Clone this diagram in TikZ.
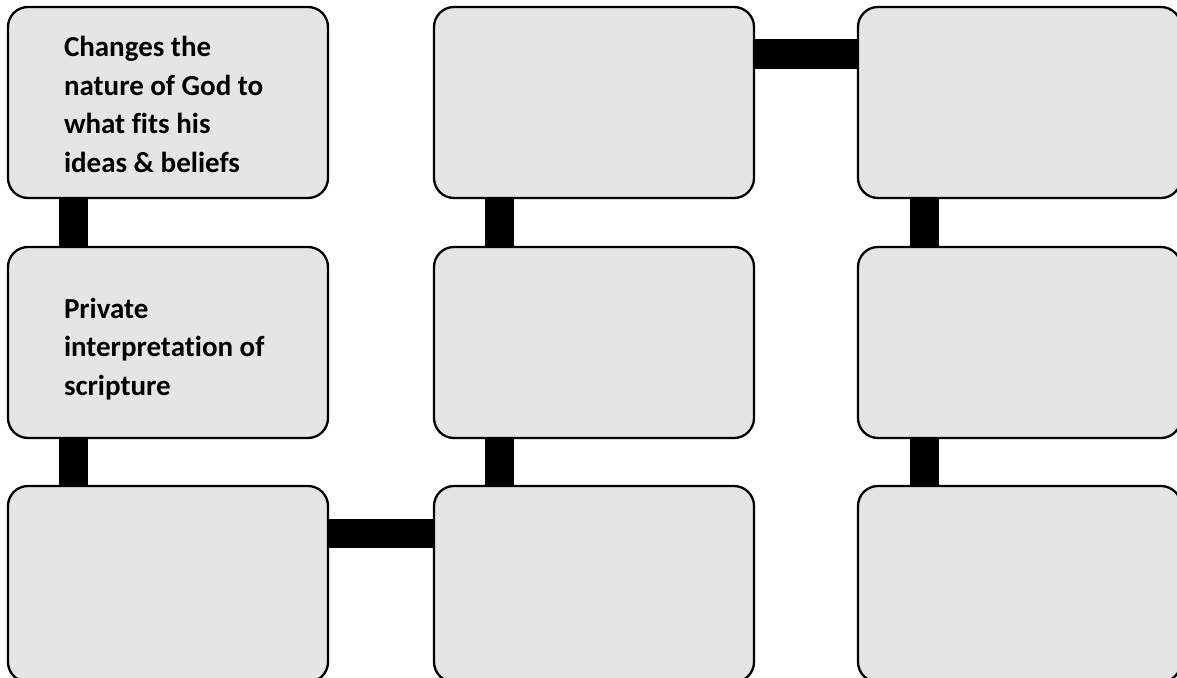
\documentclass[tikz,border=0pt]{standalone}
\usepackage{fontspec}
\setmainfont{Carlito}[Ligatures=NoCommon]
\usetikzlibrary{calc}
\definecolor{boxfill}{HTML}{E5E5E5}
\tikzset{
  card/.style={draw=black, line width=2.3pt, fill=boxfill, rounded corners=20pt,
    minimum width=320pt, minimum height=191pt, inner sep=0pt, outer sep=0pt,
    anchor=north west},
  lastcol/.style={minimum width=323pt},
  lastrow/.style={minimum height=196pt},
  bar/.style={draw=black, line width=29pt, line cap=butt},
  cardtext/.style={anchor=base west, inner sep=0pt, outer sep=0pt,
    font=\fontsize{29}{38.5}\selectfont\bfseries}
}
\begin{document}
\begin{tikzpicture}[x=1pt, y=-1pt]
\useasboundingbox (0,0) rectangle (1177,677);
\clip (0,0) rectangle (1177,677);
\coordinate (c1) at (73.5,0);
\coordinate (c2) at (499.5,0);
\coordinate (c3) at (924.5,0);
% cards
\node[card] (b11) at (8,7) {};
\node[card] (b21) at (8,247) {};
\node[card, lastrow] (b31) at (8,486) {};
\node[card] (b12) at (434,7) {};
\node[card] (b22) at (434,247) {};
\node[card, lastrow] (b32) at (434,486) {};
\node[card, lastcol] (b13) at (858,7) {};
\node[card, lastcol] (b23) at (858,247) {};
\node[card, lastcol, lastrow] (b33) at (858,486) {};
% vertical connectors
\draw[bar] (b11.south -| c1) -- (b21.north -| c1);
\draw[bar] (b21.south -| c1) -- (b31.north -| c1);
\draw[bar] (b12.south -| c2) -- (b22.north -| c2);
\draw[bar] (b22.south -| c2) -- (b32.north -| c2);
\draw[bar] (b13.south -| c3) -- (b23.north -| c3);
\draw[bar] (b23.south -| c3) -- (b33.north -| c3);
% horizontal connectors
\draw[bar] ([yshift=-47pt]b12.north east) -- ([yshift=-47pt]b13.north west);
\draw[bar] ([yshift=-47.5pt]b31.north east) -- ([yshift=-47.5pt]b32.north west);
% texts
\node[cardtext] (t11) at (64,56.7) {\parbox[t]{250pt}{\raggedright Changes the\\nature of God to\\what fits his\\ideas \& beliefs}};
\node[cardtext] (t21) at (64,318) {\parbox[t]{250pt}{\raggedright Private\\interpretation of\\scripture}};
\end{tikzpicture}
\end{document}
